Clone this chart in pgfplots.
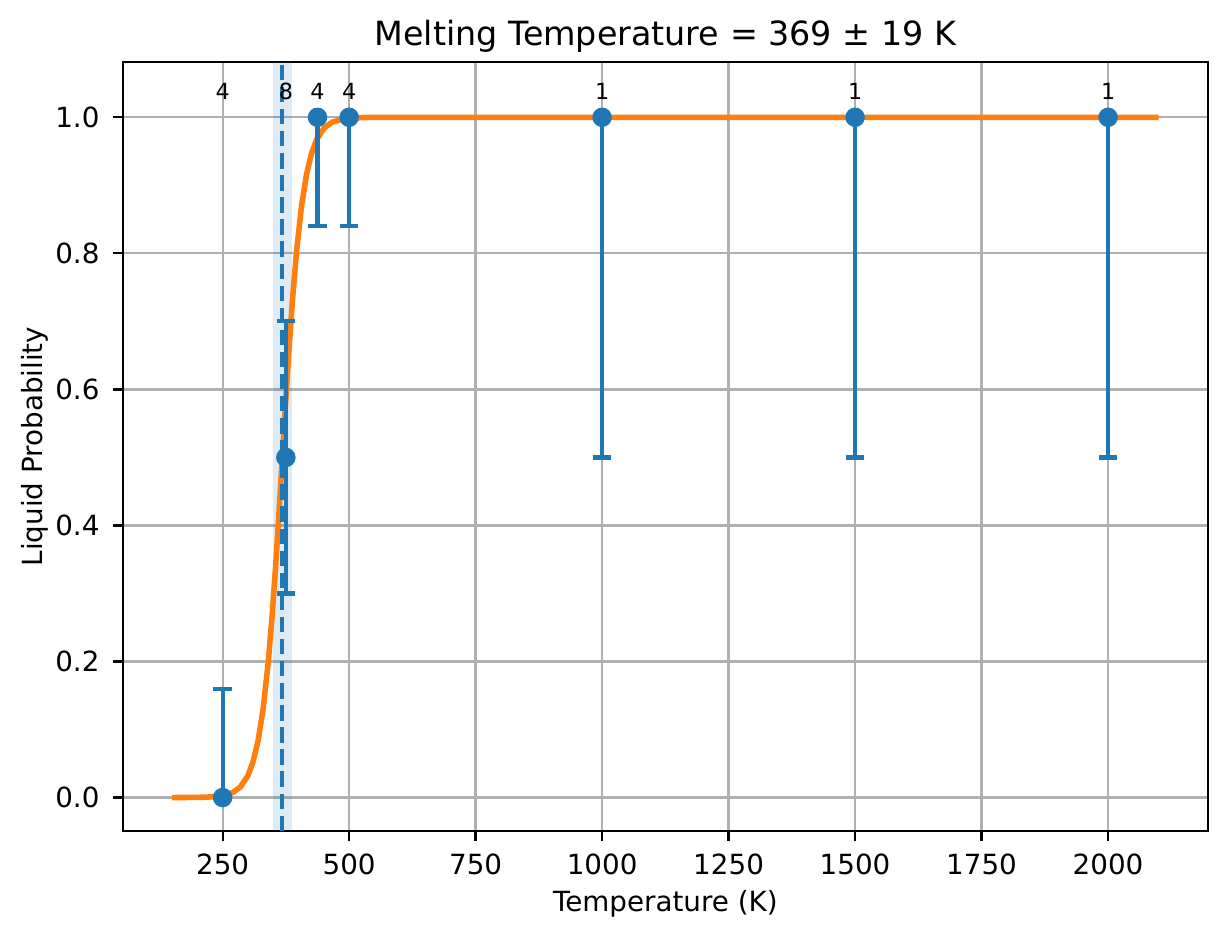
\documentclass[border=0pt]{standalone}
\usepackage{fontspec}
\setmainfont{DejaVu Sans}
\usepackage{pgfplots}
\pgfplotsset{compat=1.18}
\usetikzlibrary{calc}
\definecolor{C0}{HTML}{1F77B4}
\definecolor{C1}{HTML}{FF7F0E}
\definecolor{gridgray}{HTML}{B0B0B0}
\begin{document}
\begin{tikzpicture}
\begin{axis}[
  scale only axis,
  width=390.7pt, height=276.84pt,
  xmin=52.5, xmax=2197.5,
  ymin=-0.0492, ymax=1.0813,
  xtick={250,500,750,1000,1250,1500,1750,2000},
  ytick={0,0.2,0.4,0.6,0.8,1.0},
  tick pos=left,
  yticklabel style={/pgf/number format/fixed, /pgf/number format/fixed zerofill, /pgf/number format/precision=1},
  xticklabel style={/pgf/number format/fixed, /pgf/number format/1000 sep={}},
  /pgf/number format/assume math mode=true,
  ticklabel style={font=\fontsize{10}{12}\selectfont},
  xticklabel style={anchor=base, yshift=-11.98pt, inner sep=0pt},
  yticklabel style={anchor=east, xshift=-4.67pt, inner sep=0pt},
  tick align=outside,
  major tick length=3.5pt,
  every tick/.style={black, line width=0.8pt},
  axis line style={black, line width=0.8pt},
  grid=major,
  major grid style={gridgray, line width=0.8pt},
  clip=false,
  every axis title shift=0pt,
  title={Melting Temperature = 369 ± 19 K},
  title style={at={(axis description cs:0.5,1.0212)}, anchor=base, font=\fontsize{12}{14}\selectfont, inner sep=0pt},
  xlabel={Temperature (K)},
  xlabel style={at={(axis description cs:0.5,-0.1049)}, anchor=base, font=\fontsize{10}{12}\selectfont, inner sep=0pt},
  ylabel={Liquid Probability},
  ylabel style={at={(axis description cs:-0.0737,0.5)}, anchor=base, font=\fontsize{10}{12}\selectfont, inner sep=0pt},
]
% shaded uncertainty band
\addplot[draw=none, fill=C0, fill opacity=0.15, forget plot]
  coordinates {(349,-0.0492) (387,-0.0492) (387,1.0813) (349,1.0813)} -- cycle;
% fitted curve
\addplot[C1, line width=2pt, mark=none] coordinates {
(150,0.0000185) (200,0.000225) (230,0.00101) (250,0.00273) (270,0.00739)
(285,0.0155) (300,0.0323) (310,0.0522) (320,0.0832) (330,0.1301)
(340,0.1978) (348,0.2689) (355,0.3430) (360,0.4013) (364,0.4502)
(368,0.5) (372,0.5498) (376,0.5987) (381,0.6570) (388,0.7311)
(396,0.8022) (406,0.8699) (416,0.9168) (426,0.9478) (436,0.9677)
(451,0.9845) (466,0.9926) (486,0.9973) (506,0.9990) (536,0.99978)
(600,0.99999) (2100,1.0)
};
% data with error bars
\addplot[C0, only marks, mark=*, mark size=3pt,
  mark options={fill=C0, draw=C0, line width=1pt},
  error bars/.cd, y dir=both, y explicit,
  error bar style={C0, line width=1.5pt},
  error mark options={C0, line width=1.5pt, mark size=3.3pt, rotate=90}]
coordinates {
(250,0)    += (0,0.16) -= (0,0)
(375,0.5)  += (0,0.2)  -= (0,0.2)
(437.5,1)  += (0,0)    -= (0,0.16)
(500,1)    += (0,0)    -= (0,0.16)
(1000,1)   += (0,0)    -= (0,0.5)
(1500,1)   += (0,0)    -= (0,0.5)
(2000,1)   += (0,0)    -= (0,0.5)
};
% melting temperature line
\addplot[C0, line width=1.5pt, dash pattern=on 5.55pt off 2.4pt, mark=none]
  coordinates {(368,-0.0492) (368,1.0813)};
% counts
\addplot[draw=none, mark=none, nodes near coords, point meta=explicit symbolic,
  nodes near coords style={anchor=base, inner sep=0pt, black, font=\fontsize{8}{9.6}\selectfont}]
coordinates {
(250,1.026) [4]
(375,1.026) [8]
(437.5,1.026) [4]
(500,1.026) [4]
(1000,1.026) [1]
(1500,1.026) [1]
(2000,1.026) [1]
};
\end{axis}
\pgfresetboundingbox
\path[use as bounding box] ($(current axis.south west)+(-44.17pt,-38.88pt)$) rectangle ($(current axis.north east)+(6.84pt,22.32pt)$);
\end{tikzpicture}
\end{document}
